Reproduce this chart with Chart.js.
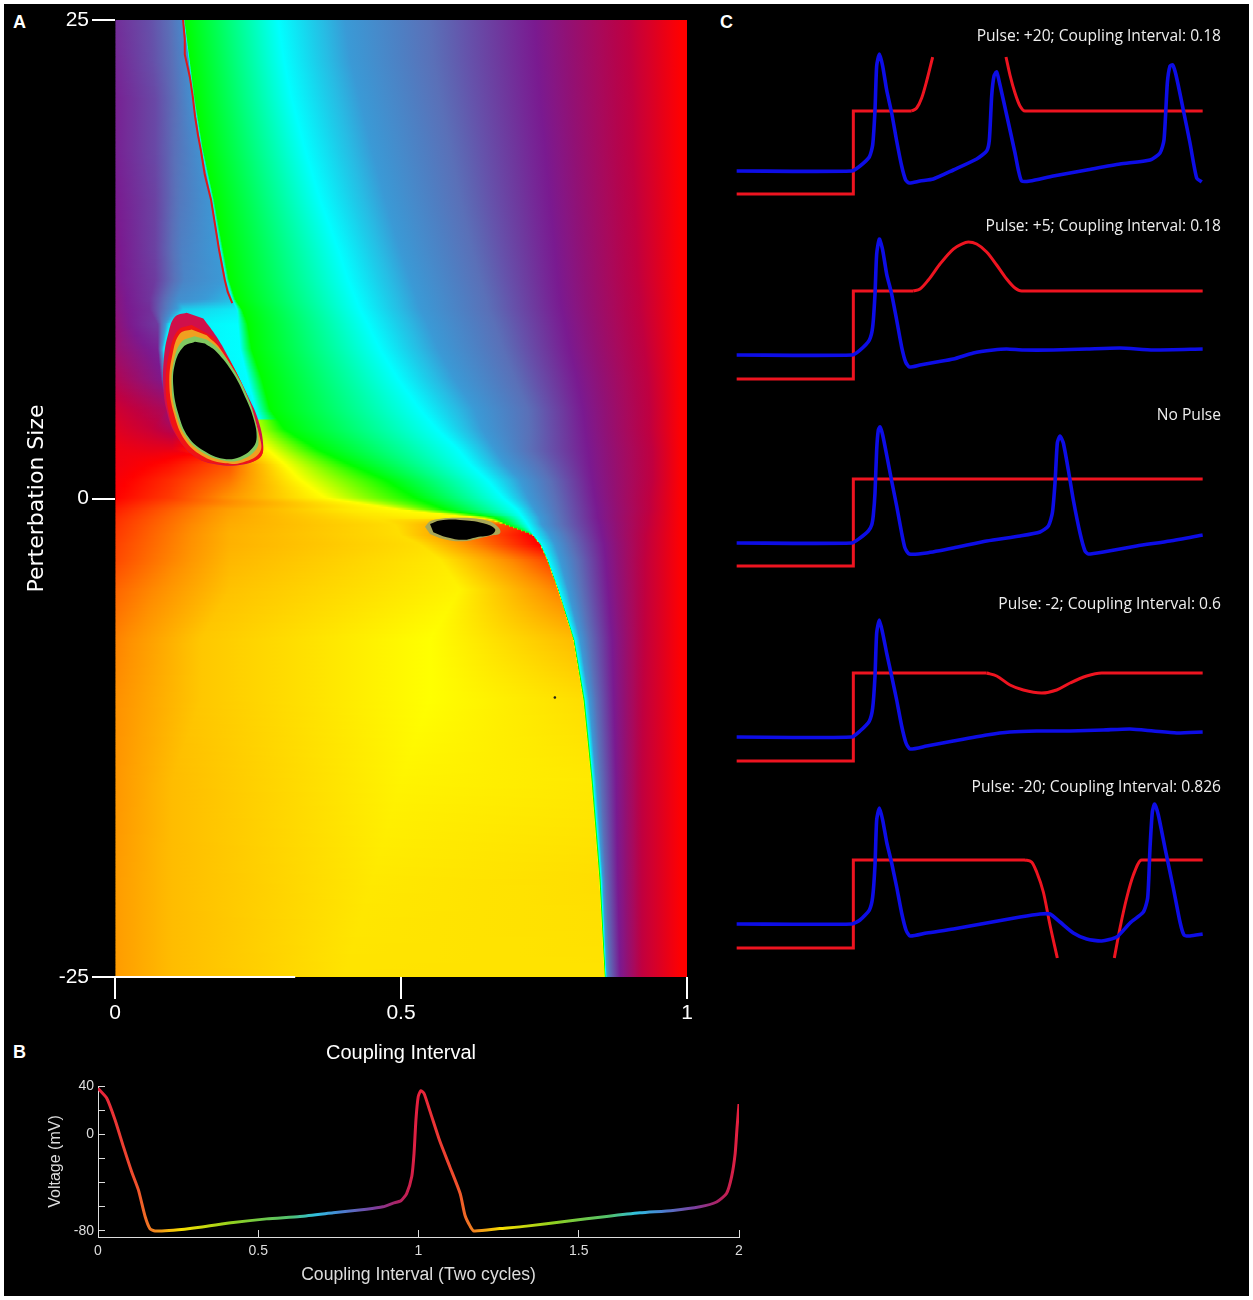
<!DOCTYPE html>
<html>
<head>
<meta charset="utf-8">
<title>Phase response map</title>
<script src="https://cdn.jsdelivr.net/npm/chart.js@4/dist/chart.umd.min.js"></script>
<style>
  html, body { margin: 0; background: #fff; overflow: hidden; width: 1253px; height: 1300px; }
  #frame { position: absolute; left: 4px; top: 4px; width: 1245px; height: 1292px; background: #000; }
  canvas { position: absolute; }
  .letter { position: absolute; color: #fff; font: bold 18px "Liberation Sans", sans-serif; }
</style>
</head>
<body>
<div id="frame"></div>
<div class="letter" style="left:13px;top:12px">A</div>
<div class="letter" style="left:13px;top:1042px">B</div>
<div class="letter" style="left:720px;top:12px">C</div>
<canvas id="chart-map" width="700" height="1065" style="left:0;top:0"></canvas>
<canvas id="chart-cycle" width="720" height="230" style="left:40px;top:1060px"></canvas>
<canvas id="chart-c1" width="485" height="186" style="left:736px;top:27px"></canvas>
<canvas id="chart-c2" width="485" height="180" style="left:736px;top:217px"></canvas>
<canvas id="chart-c3" width="485" height="178" style="left:736px;top:406px"></canvas>
<canvas id="chart-c4" width="485" height="184" style="left:736px;top:595px"></canvas>
<canvas id="chart-c5" width="485" height="188" style="left:736px;top:778px"></canvas>
<script>
// phase colour scale
const phaseAnchors = [0, 0.1, 0.2, 0.33, 0.5, 0.6, 0.7, 0.83, 0.92, 1];
const phaseColors = ['#ff0000', '#ff9000', '#ffff00', '#00ff00', '#00ffff', '#3a9ad6', '#5a70b8', '#7a1a90', '#c00040', '#ff0000'];

// panel A: perturbation size of each map row
const mapRowY = [25, 22.91, 20.84, 18.22, 15.6, 12.98, 11.41, 10.37, 9.84, 9.06, 7.75, 6.18, 4.61, 3.56, 2.51, 1.73, 0.94, 0,
  -0.63, -1.05, -1.41, -1.94, -2.46, -3.25, -4.82, -7.43, -10.58, -14.76, -20, -25];
// coupling interval of the colour stops in each row
const mapRowX = [
  [.061, .096, .119, .122, .285, .402, .551, .734, .900],
  [.065, .1, .128, .131, .295, .411, .556, .738, .902],
  [.07, .105, .136, .14, .309, .428, .568, .743, .904],
  [.07, .11, .15, .154, .332, .449, .586, .752, .905],
  [.07, .114, .168, .173, .358, .472, .603, .76, .909],
  [.07, .117, .182, .189, .39, .498, .624, .769, .912],
  [.07, .122, .192, .199, .407, .516, .638, .774, .914],
  [.061, .11, .203, .21, .421, .528, .649, .778, .918],
  [.06, .12, .212, .222, .428, .533, .652, .781, .918],
  [.075, .095, .215, .232, .442, .547, .664, .787, .921],
  [.075, .085, .219, .239, .463, .565, .678, .795, .926],
  [.08, .09, .232, .257, .495, .594, .699, .808, .932],
  [.09, .096, .246, .271, .533, .629, .722, .818, .935],
  [.061, .1, .259, .297, .563, .642, .725, .822, .935],
  [.061, .1, .267, .355, .6, .664, .725, .827, .939],
  [.096, .201, .297, .411, .621, .682, .743, .83, .939],
  [.096, .201, .323, .472, .65, .708, .76, .834, .939],
  [.096, .192, .367, .524, .678, .722, .769, .839, .935],
  [.2, .4, .498, .577, .703, .734, .774, .843, .935],
  [.2, .45, .638, .664, .713, .743, .778, .844, .932],
  [.2, .49, .682, .684, .722, .746, .781, .848, .932],
  [.2, .498, .729, .73, .731, .76, .792, .851, .928],
  [.2, .533, .743, .744, .745, .769, .799, .855, .928],
  [.2, .568, .755, .756, .757, .778, .808, .858, .926],
  [.2, .603, .774, .775, .776, .792, .816, .862, .926],
  [.15, .55, .801, .802, .804, .813, .83, .869, .925],
  [.15, .55, .818, .82, .822, .829, .841, .872, .923],
  [.1, .5, .832, .834, .836, .841, .85, .876, .921],
  [.1, .45, .846, .848, .85, .853, .858, .879, .921],
  [.1, .4, .855, .857, .858, .86, .865, .883, .921]
];
// phase left of the front in each row: edge, two inner stops, front
const mapRowPhase = [
  [.8, .75, .7, .64], [.81, .75, .7, .63], [.82, .76, .7, .62], [.82, .76, .69, .62], [.83, .77, .68, .61],
  [.84, .77, .66, .6], [.84, .78, .65, .6], [.85, .79, .63, .57], [.85, .8, .55, .52], [.86, .78, .52, .5],
  [.87, .82, .52, .5], [.9, .84, .55, .5], [.94, .89, .85, .5], [.96, .93, .9, 1.25], [.98, .97, .97, 1.2],
  [.98, 1.01, 1.06, 1.2], [.99, 1.03, 1.08, 1.2], [1, 1.04, 1.1, 1.2], [1.02, 1.115, 1.18, 1.2], [1.03, 1.12, 1.175, 1.2],
  [1.035, 1.125, 1.17, 1.05], [1.04, 1.13, 1.17, 1], [1.045, 1.13, 1.17, 1], [1.05, 1.135, 1.18, 1.05], [1.07, 1.145, 1.19, 1.09],
  [1.09, 1.15, 1.2, 1.14], [1.1, 1.15, 1.2, 1.17], [1.105, 1.14, 1.19, 1.18], [1.11, 1.14, 1.18, 1.17], [1.11, 1.14, 1.175, 1.175]
];
// phase right of the front, same for all rows
const frontPhase = [.33, .5, .6, .7, .83, .92, 1, 1];

// thin red discontinuity in the upper left
const edgeX = [.119, .122, .122, .128, .131, .136, .14, .145, .15, .157, .168, .175, .182, .187, .192, .197, .205];
const edgeY = [25, 23.98, 23.2, 22.41, 22, 21, 19.95, 19, 18.22, 16.91, 15.6, 14.29, 12.98, 12.2, 11.41, 10.79, 10.21];

// large island, outer ring to black core
const crimsonX = [.1253, .1049, .0932, .0857, .0845, .0903, .1049, .1369, .1777, .2243, .2535, .2593, .2505, .2302, .201, .1777, .1544];
const crimsonY = [9.7, 9.49, 8.62, 7.4, 5.83, 4.61, 3.39, 2.25, 1.78, 1.78, 2.17, 2.69, 4.09, 5.48, 7.23, 8.45, 9.41];
const redX = [.134, .1107, .0961, .0886, .0932, .1078, .1398, .1777, .2243, .2564, .2535, .2389, .2068, .1719];
const redY = [9.06, 8.8, 7.75, 6.18, 4.61, 3.3, 2.2, 1.82, 1.82, 2.25, 3.21, 4.78, 6.88, 8.45];
const orangeX = [.134, .1136, .1008, .095, .1031, .1224, .1515, .1893, .2243, .2535, .2523, .2389, .2156, .1835, .1602];
const orangeY = [8.83, 8.62, 7.58, 6, 4.43, 3.04, 2.25, 1.85, 1.9, 2.43, 3.3, 4.52, 6.18, 7.84, 8.53];
const greenX = [.1387, .1165, .1031, .099, .1066, .1241, .1515, .1893, .2214, .2476, .2505, .2447, .233, .2098, .1806, .1602];
const greenY = [8.48, 8.19, 7.23, 5.83, 4.43, 3.21, 2.43, 1.99, 2.03, 2.6, 3.21, 4.17, 5.22, 6.62, 7.84, 8.31];
const coreX = [.1398, .1194, .1049, .102, .1107, .1282, .1544, .1893, .2185, .2418, .2476, .243, .2302, .2068, .1777, .1573];
const coreY = [8.19, 7.92, 7.05, 5.83, 4.43, 3.21, 2.51, 2.08, 2.17, 2.69, 3.21, 4.09, 5.13, 6.53, 7.66, 8.1];

// small island near zero
const smallRingX = [.5419, .5536, .6031, .6498, .6702, .6731, .6556, .609, .574, .5507];
const smallRingY = [-1.47, -1.15, -1.01, -1.15, -1.5, -1.81, -1.94, -2.23, -2.11, -1.85];
const smallCoreX = [.5507, .5682, .6031, .644, .6644, .6585, .6323, .609, .5798, .5565];
const smallCoreY = [-1.33, -1.15, -1.12, -1.29, -1.59, -1.88, -2.02, -2.16, -2.02, -1.76];

const speckX = [.769];
const speckY = [-10.4];
const baseLineX = [-.04, .315];
const baseLineY = [-25, -25];

// panel B: two cycles of voltage
const cycleTime = [0, .027, .053, .079, .105, .126, .147, .162, .178, .235, .318, .422, .526, .63, .734, .838, .889, .921, .945,
  .963, .979, .986, .992, .999, 1.007, 1.017, 1.036, 1.067, 1.098, 1.13, 1.145, 1.161, 1.173, 1.254, 1.337, 1.462, 1.587, 1.691,
  1.794, 1.878, 1.93, 1.961, 1.977, 1.988, 1.994, 2];
const cycleVolt = [38, 30, 12, -10, -31, -46, -68, -78, -80, -79.5, -77, -73, -70, -68, -65, -62, -60, -57, -55,
  -49, -35, -16, 12, 31, 36, 34, 19, -6, -27, -49, -67, -76, -80, -78, -76, -72, -68, -65,
  -63, -60, -56, -49, -35, -16, 6, 25];
const cycleTicksX = [0, 0.5, 1, 1.5, 2];
const cycleTicksY = [40, 20, 0, -20, -40, -60, -80];
const cycleLabelsY = [40, 0, -80];
const lineStopAt = [0, .12, .17, .26, .42, .6, .68, .76, .86, .94, 1];
const lineStopColor = ['#e8203c', '#f0502c', '#f08020', '#f8e000', '#90d020', '#50c070', '#30c0e0', '#4a80d0', '#7a40a0', '#b02060', '#e8203c'];

// panel C
const pulseTitles = ['Pulse: +20; Coupling Interval: 0.18', 'Pulse: +5; Coupling Interval: 0.18', 'No Pulse',
  'Pulse: -2; Coupling Interval: 0.6', 'Pulse: -20; Coupling Interval: 0.826'];

const blueT1 = [-698, -8, 42, 98, 118, 132, 142, 158, 178, 202, 232, 262, 292, 316, 338, 402, 482, 602, 742, 802, 818, 832, 846, 862, 882, 922, 972, 992, 1012, 1062, 1202, 1402, 1602, 1782, 1842, 1866, 1886, 1902, 1918, 1938, 1982, 2022, 2062, 2092];
const blueV1 = [-68, -68, -63, -54, -42, -7, 37, 49, 37, 13, -10, -38, -63, -77, -80, -78, -76, -67, -56, -48, -37, 7, 27, 31, 18, -12, -50, -67, -78, -78, -73, -67, -61, -57, -50, -37, 20, 37, 38, 28, -7, -40, -75, -79];
const redT1 = [-698, 2, 2, 352, 382, 412, 442, 478, 700, 918, 942, 972, 1002, 1032, 2098];
const redV1 = [-91, -91, -8, -8, -5, 5, 22, 46, null, 46, 28, 10, -3, -8, -8];

const blueT2 = [-698, -8, 42, 98, 118, 132, 142, 158, 178, 202, 232, 262, 292, 316, 338, 402, 502, 602, 722, 842, 922, 1022, 1202, 1402, 1602, 1802, 2098];
const blueV2 = [-68, -68, -63, -53, -40, -7, 33, 48, 37, 13, -7, -33, -60, -75, -80, -78, -75, -72, -66, -63, -62, -63, -63, -62, -61, -63, -62];
const redT2 = [-698, 2, 2, 362, 402, 452, 522, 602, 652, 692, 742, 802, 862, 922, 972, 1012, 2098];
const redV2 = [-92, -92, -4, -4, -2, 7, 23, 38, 43, 45, 43, 35, 22, 8, -1, -4, -4];

const blueT3 = [-698, -8, 42, 92, 112, 122, 132, 142, 152, 162, 178, 202, 232, 262, 292, 312, 338, 442, 602, 802, 1002, 1122, 1172, 1196, 1212, 1226, 1242, 1262, 1292, 1322, 1362, 1392, 1412, 1502, 1702, 1902, 2098];
const blueV3 = [-69, -69, -64, -57, -51, -41, -19, 24, 44, 47, 39, 19, -7, -32, -59, -74, -80, -79, -74, -67, -62, -58, -52, -39, -9, 31, 38, 31, 4, -26, -59, -77, -80, -78, -72, -67, -61];
const redT3 = [-698, 2, 2, 2098];
const redV3 = [-92, -92, -5, -5];

const blueT4 = [-698, -8, 42, 98, 118, 132, 142, 158, 178, 202, 232, 262, 292, 318, 342, 442, 602, 802, 942, 1102, 1302, 1502, 1662, 1802, 1942, 2098];
const blueV4 = [-68, -68, -62, -52, -39, -7, 36, 49, 36, 16, -7, -31, -57, -74, -80, -77, -72, -66, -63, -62, -62, -61, -60, -62, -64, -63];
const redT4 = [-698, 2, 2, 802, 862, 942, 1022, 1132, 1222, 1302, 1402, 1492, 2098];
const redV4 = [-92, -92, -4, -4, -7, -16, -21, -24, -21, -14, -7, -4, -4];

const blueT5 = [-698, -8, 42, 98, 118, 132, 142, 158, 178, 202, 232, 262, 292, 318, 342, 442, 602, 802, 1002, 1122, 1182, 1242, 1322, 1402, 1492, 1582, 1662, 1742, 1768, 1782, 1796, 1810, 1832, 1872, 1922, 1962, 1986, 2022, 2098];
const blueV5 = [-68, -68, -64, -54, -41, -9, 36, 48, 36, 14, -7, -31, -57, -74, -80, -77, -73, -67, -61, -58, -58, -66, -77, -83, -85, -81, -67, -56, -42, 8, 44, 52, 41, 8, -32, -66, -79, -80, -78];
const redT5 = [-698, 2, 2, 1032, 1072, 1102, 1142, 1182, 1226, 1400, 1568, 1602, 1642, 1682, 1732, 2098];
const redV5 = [-92, -92, -4, -4, -6, -16, -36, -69, -102, null, -102, -72, -42, -19, -4, -4];

const pulseTop = [57.3, 51.3, 49.3, 55.3, 59.3];

const NARROW = '"Liberation Sans Narrow", "Liberation Sans", sans-serif';

function zip(xs, ys) {
  return xs.map((x, i) => ({ x, y: ys[i] }));
}

function hexToRgb(hex) {
  return [1, 3, 5].map(i => parseInt(hex.slice(i, i + 2), 16));
}
const phaseRgb = phaseColors.map(hexToRgb);

function colorOf(phase) {
  const p = ((phase % 1) + 1) % 1;
  let i = 0;
  while (i < phaseAnchors.length - 2 && p > phaseAnchors[i + 1]) i++;
  const f = (p - phaseAnchors[i]) / (phaseAnchors[i + 1] - phaseAnchors[i]);
  const c = phaseRgb[i].map((v, k) => Math.round(v + (phaseRgb[i + 1][k] - v) * f));
  return `rgb(${c[0]},${c[1]},${c[2]})`;
}

function rowStops(r) {
  return {
    xs: [0, ...mapRowX[r], .99, 1],
    ps: [...mapRowPhase[r], ...frontPhase]
  };
}

// stops for one band of the map, blended between the two rows around it
function bandStops(y) {
  let r = 0;
  while (r < mapRowY.length - 2 && y < mapRowY[r + 1]) r++;
  const f = (mapRowY[r] - y) / (mapRowY[r] - mapRowY[r + 1]);
  const a = rowStops(r);
  const b = rowStops(r + 1);
  return {
    xs: a.xs.map((x, i) => x + (b.xs[i] - x) * f),
    ps: a.ps.map((p, i) => Math.abs(b.ps[i] - p) > .25 ? (f < .5 ? p : b.ps[i]) : p + (b.ps[i] - p) * f)
  };
}

const bandY = [];
for (let y = 25; y >= -25; y -= .08) bandY.push(y);

function bandGradient(chart, y) {
  const { xs, ps } = bandStops(y);
  const sx = chart.scales.x;
  const g = chart.ctx.createLinearGradient(sx.getPixelForValue(0), 0, sx.getPixelForValue(1), 0);
  for (let i = 0; i < xs.length - 1; i++) {
    let p0 = ps[i];
    const p1 = ps[i + 1];
    if (p1 - p0 < -.5) p0 -= 1;
    for (let j = 0; j <= 6; j++) {
      g.addColorStop(xs[i] + (xs[i + 1] - xs[i]) * j / 6, colorOf(p0 + (p1 - p0) * j / 6));
    }
  }
  return g;
}

function shape(xs, ys, color) {
  return { type: 'scatter', showLine: true, fill: 'shape', tension: .4, pointRadius: 0, borderWidth: 0, backgroundColor: color, data: zip(xs, ys) };
}

const tickFont = { family: NARROW, size: 21 };

new Chart(document.getElementById('chart-map'), {
  type: 'scatter',
  data: {
    datasets: [
      { type: 'scatter', showLine: true, pointRadius: 0, borderColor: '#fff', borderWidth: 2, clip: false, data: zip(baseLineX, baseLineY) },
      { type: 'scatter', pointRadius: 1.2, backgroundColor: '#222', data: zip(speckX, speckY) },
      { type: 'scatter', showLine: true, pointRadius: 0, borderColor: '#e01818', borderWidth: 2, data: zip(edgeX, edgeY) },
      shape(smallCoreX, smallCoreY, '#000'),
      shape(smallRingX, smallRingY, '#a8a858'),
      shape(coreX, coreY, '#000'),
      shape(greenX, greenY, '#80c860'),
      shape(orangeX, orangeY, '#f0a020'),
      shape(redX, redY, '#f01414'),
      shape(crimsonX, crimsonY, '#d0104a'),
      {
        type: 'bar',
        indexAxis: 'y',
        barThickness: 2.6,
        borderWidth: 0,
        data: bandY.map(y => ({ x: 1, y })),
        backgroundColor: ctx => {
          if (ctx.dataIndex === undefined || !ctx.chart.chartArea) return 'transparent';
          return bandGradient(ctx.chart, bandY[ctx.dataIndex]);
        }
      }
    ]
  },
  options: {
    responsive: false,
    animation: false,
    events: [],
    layout: { autoPadding: false, padding: { top: 20, right: 13 } },
    plugins: { legend: { display: false }, tooltip: { enabled: false } },
    scales: {
      x: {
        type: 'linear', min: 0, max: 1, offset: false,
        afterFit: s => { s.height = 88; },
        border: { display: false },
        grid: { offset: false, drawOnChartArea: false, color: '#fff', lineWidth: 2, tickLength: 22 },
        ticks: { stepSize: .5, color: '#fff', font: tickFont, padding: 2, maxRotation: 0, callback: v => String(v) },
        title: { display: true, text: 'Coupling Interval', color: '#fff', font: { family: NARROW, size: 20 }, padding: 0 }
      },
      y: {
        type: 'linear', min: -25, max: 25, offset: false,
        afterFit: s => { s.width = 115; },
        border: { display: false },
        grid: { offset: false, drawOnChartArea: false, color: '#fff', lineWidth: 2, tickLength: 23 },
        ticks: { stepSize: 25, color: '#fff', font: tickFont, padding: 3, callback: v => String(v) },
        title: { display: true, text: 'Perterbation Size', color: '#fff', font: { family: '"DejaVu Sans"', size: 22 }, padding: { top: 24, bottom: 0 } }
      }
    }
  }
});

function cycleGradient(ctx) {
  const chart = ctx.chart;
  if (!chart.chartArea) return '#e8203c';
  const sx = chart.scales.x;
  const g = chart.ctx.createLinearGradient(sx.getPixelForValue(0), 0, sx.getPixelForValue(2), 0);
  for (const cycle of [0, 1]) {
    lineStopAt.forEach((t, i) => g.addColorStop((cycle + t) / 2, lineStopColor[i]));
  }
  return g;
}

new Chart(document.getElementById('chart-cycle'), {
  type: 'line',
  data: {
    datasets: [{
      data: zip(cycleTime, cycleVolt),
      borderColor: cycleGradient,
      borderWidth: 3,
      pointRadius: 0,
      tension: .2
    }]
  },
  options: {
    responsive: false,
    animation: false,
    events: [],
    layout: { autoPadding: false, padding: { top: 26, right: 21 } },
    plugins: { legend: { display: false }, tooltip: { enabled: false } },
    scales: {
      x: {
        type: 'linear', min: 0, max: 2,
        afterFit: s => { s.height = 53; },
        afterBuildTicks: s => { s.ticks = cycleTicksX.map(value => ({ value })); },
        border: { color: '#ddd', width: 1 },
        grid: { drawOnChartArea: false, color: '#ddd', tickLength: -7 },
        ticks: { color: '#ddd', font: { family: NARROW, size: 14 }, padding: 13, maxRotation: 0, callback: v => String(v) },
        title: { display: true, text: 'Coupling Interval (Two cycles)', color: '#ddd', font: { family: '"Liberation Sans"', size: 17.6 }, padding: { bottom: 4 } }
      },
      y: {
        type: 'linear', min: -85, max: 40,
        afterFit: s => { s.width = 58; },
        afterBuildTicks: s => { s.ticks = cycleTicksY.map(value => ({ value })); },
        border: { color: '#ddd', width: 1 },
        grid: { drawOnChartArea: false, color: '#ddd', tickLength: -7 },
        ticks: { color: '#ddd', font: { family: NARROW, size: 14 }, padding: 11, autoSkip: false, callback: v => cycleLabelsY.includes(v) ? String(v) : '' },
        title: { display: true, text: 'Voltage (mV)', color: '#ddd', font: { family: '"Liberation Sans"', size: 16 }, padding: { top: 6, bottom: 0 } }
      }
    }
  }
});

function buildPulseChart(canvasId, title, blueT, blueV, redT, redV, top) {
  const red = zip(redT, redV);
  new Chart(document.getElementById(canvasId), {
    type: 'line',
    data: {
      datasets: [
        { data: zip(blueT, blueV), borderColor: '#0d0de6', borderWidth: 3.6, pointRadius: 0, tension: .2 },
        // the step keeps its square corners, the rest of the trace is smoothed
        { data: red.slice(0, 4), borderColor: '#ee1420', borderWidth: 3, pointRadius: 0 },
        { data: red.slice(3), borderColor: '#ee1420', borderWidth: 3, pointRadius: 0, cubicInterpolationMode: 'monotone' }
      ]
    },
    options: {
      responsive: false,
      animation: false,
      events: [],
      layout: { autoPadding: false, padding: 0 },
      plugins: {
        legend: { display: false },
        tooltip: { enabled: false },
        title: { display: true, text: title, align: 'end', color: '#eee', font: { family: '"Open Sans"', size: 15.6, weight: 'normal' }, padding: 0 }
      },
      scales: {
        x: { type: 'linear', display: false, min: -702, max: 2208 },
        y: { type: 'linear', display: false, min: -110, max: top }
      }
    }
  });
}

buildPulseChart('chart-c1', pulseTitles[0], blueT1, blueV1, redT1, redV1, pulseTop[0]);
buildPulseChart('chart-c2', pulseTitles[1], blueT2, blueV2, redT2, redV2, pulseTop[1]);
buildPulseChart('chart-c3', pulseTitles[2], blueT3, blueV3, redT3, redV3, pulseTop[2]);
buildPulseChart('chart-c4', pulseTitles[3], blueT4, blueV4, redT4, redV4, pulseTop[3]);
buildPulseChart('chart-c5', pulseTitles[4], blueT5, blueV5, redT5, redV5, pulseTop[4]);
</script>
</body>
</html>
